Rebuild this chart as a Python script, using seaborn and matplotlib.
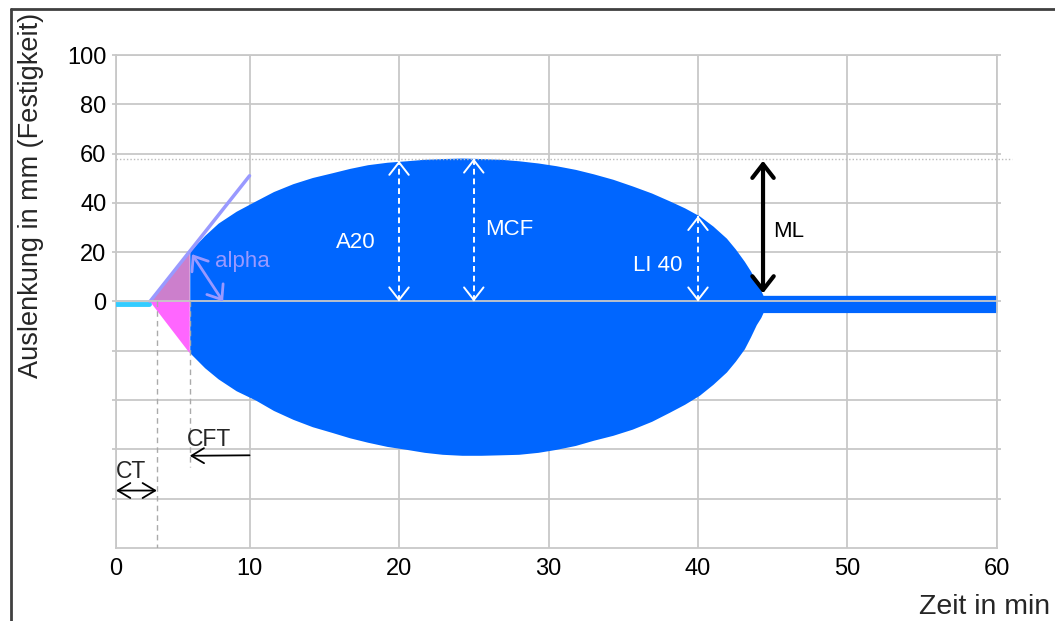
import matplotlib
matplotlib.use("Agg")
import matplotlib.pyplot as plt
import seaborn as sns
import pandas as pd
from matplotlib.lines import Line2D

# time axis (reference starts a little after 0, labelled "0")
x_start = 1.07
x_ticks = [x_start, 10, 20, 30, 40, 50, 60]
x_tick_labels = ["0", "10", "20", "30", "40", "50", "60"]
y_ticks = [-80, -60, -40, -20, 0, 20, 40, 60, 80, 100]
y_tick_labels = ["", "", "", "", "0", "20", "40", "60", "80", "100"]

# clot amplitude (upper / lower envelope), incl. lysed tail
clot_time = [6.0, 7.0, 7.9, 9.1, 10.4, 11.6, 12.9, 14.2, 15.5, 16.7, 17.9, 19.2, 20.5,
             21.7, 22.9, 24.2, 25.5, 26.8, 28.0, 29.3, 30.5, 31.8, 33.0, 34.3, 35.6,
             36.9, 38.1, 39.1, 40.1, 41.0, 41.9, 42.5, 43.1, 43.5, 43.9, 44.2, 44.35, 60.0]
clot_upper = [20.4, 26.8, 31.8, 36.6, 40.8, 44.6, 47.8, 50.3, 52.2, 54.0, 55.5, 56.5, 57.1,
              57.7, 58.0, 58.2, 58.0, 57.7, 57.1, 56.2, 55.1, 53.6, 51.8, 49.6, 46.9,
              44.0, 40.8, 38.0, 34.7, 30.6, 25.7, 21.3, 16.3, 12.5, 8.2, 4.5, 2.5, 2.5]
clot_lower = [-20.8, -26.9, -31.4, -36.2, -40.0, -44.2, -47.8, -50.8, -53.1, -55.3, -57.1, -58.8, -60.0,
              -61.2, -62.0, -62.4, -62.4, -62.2, -62.0, -61.2, -60.0, -58.4, -56.3, -54.3, -51.8,
              -48.6, -44.9, -41.7, -38.0, -33.6, -28.6, -24.2, -19.2, -14.5, -9.4, -6.5, -4.5, -4.5]

# key parameters
ct_time = 3.8
cft_time = 6.0
clot_start = 3.34
cft_amp_upper = 20.4
cft_amp_lower = -21.0
tangent_x = [3.34, 10.0]
tangent_y = [0.0, 51.0]
baseline_x = [x_start, 3.3]
baseline_y = [-1.0, -1.0]
a20_time, a20_amp = 20, 57.1
mcf_time, mcf_amp = 25, 58.0
li40_time, li40_amp = 40, 34.7
ml_time, ml_top, ml_bottom = 44.35, 57.1, 3.3

blue = "#0066ff"
lavender = "#9999ff"
grid_c = "#c8c8c8"

sns.set_theme(style="white")
plt.rcParams["font.family"] = ["Liberation Sans", "DejaVu Sans"]

fig, ax = plt.subplots(figsize=(10.55, 6.21), dpi=100)
fig.subplots_adjust(left=0.110, right=0.945, bottom=0.1176, top=0.9114)

# clot body
ax.fill_between(clot_time, clot_lower, clot_upper, color=blue, lw=0, zorder=2)

# CFT triangles
ax.fill([clot_start, cft_time, cft_time], [0, cft_amp_upper, 0], color="#cc7fcc", lw=0, zorder=2)
ax.fill([clot_start, cft_time, cft_time], [0, cft_amp_lower, 0], color="#ff66ff", lw=0, zorder=2)

# baseline before clotting and alpha tangent
lines = pd.DataFrame({"x": baseline_x, "y": baseline_y})
sns.lineplot(data=lines, x="x", y="y", color="#33ccff", lw=3.5, ax=ax, zorder=3)
tangent = pd.DataFrame({"x": tangent_x, "y": tangent_y})
sns.lineplot(data=tangent, x="x", y="y", color=lavender, lw=2.5, ax=ax, zorder=3)

ax.axhline(0, color=grid_c, lw=1.3, zorder=3)
ax.plot([x_start, 61.0], [mcf_amp, mcf_amp], color="#bbbbbb", lw=1, ls=(0, (1, 1.5)),
        clip_on=False, zorder=3)


def white_dashed_arrow(x, top):
    ax.plot([x, x], [0, top], color="white", lw=1.4, ls=(0, (3, 2)), zorder=4)
    for a, b in [(top - 1, top), (1, 0)]:
        ax.annotate("", xy=(x, b), xytext=(x, a),
                    arrowprops=dict(arrowstyle="->,head_length=0.45,head_width=0.35",
                                    color="white", lw=1.4, mutation_scale=20,
                                    shrinkA=0, shrinkB=0), zorder=4)


white_dashed_arrow(a20_time, a20_amp)
white_dashed_arrow(mcf_time, mcf_amp)
white_dashed_arrow(li40_time, li40_amp)

ax.text(17.1, 24, "A20", color="white", fontsize=16, ha="center", va="center", zorder=5)
ax.text(27.4, 29.4, "MCF", color="white", fontsize=16, ha="center", va="center", zorder=5)
ax.text(37.3, 14.7, "LI 40", color="white", fontsize=16, ha="center", va="center", zorder=5)

# ML
ax.annotate("", xy=(ml_time, ml_top), xytext=(ml_time, ml_bottom),
            arrowprops=dict(arrowstyle="<->,head_length=0.45,head_width=0.35",
                            color="black", lw=3, mutation_scale=22,
                            shrinkA=0, shrinkB=0), zorder=5)
ax.text(45.0, 28.6, "ML", color="black", fontsize=16, ha="left", va="center", zorder=5)

# alpha
ax.annotate("", xy=(6.15, 19.2), xytext=(8.23, 0),
            arrowprops=dict(arrowstyle="<->,head_length=0.45,head_width=0.35",
                            color=lavender, lw=2, mutation_scale=20,
                            shrinkA=0, shrinkB=0), zorder=5)
ax.text(7.7, 16.3, "alpha", color=lavender, fontsize=16, ha="left", va="center", zorder=5)

# CT / CFT markers
ax.plot([ct_time, ct_time], [0, -100], color="#aaaaaa", lw=1, ls=(0, (4, 3)), zorder=3)
ax.plot([cft_time, cft_time], [0, -67], color="#aaaaaa", lw=1, ls=(0, (4, 3)), zorder=3)
ax.annotate("", xy=(ct_time, -76.7), xytext=(x_start, -76.7),
            arrowprops=dict(arrowstyle="<->,head_length=0.5,head_width=0.3",
                            color="black", lw=1.3, mutation_scale=18,
                            shrinkA=0, shrinkB=0), zorder=5)
ax.text(x_start, -69, "CT", fontsize=16.5, ha="left", va="center", zorder=5)
ax.annotate("", xy=(cft_time, -62.6), xytext=(10.0, -62.4),
            arrowprops=dict(arrowstyle="->,head_length=0.5,head_width=0.3",
                            color="black", lw=1.3, mutation_scale=18,
                            shrinkA=0, shrinkB=0), zorder=5)
ax.text(7.3, -56, "CFT", fontsize=16.5, ha="center", va="center", zorder=5)

# axes
ax.set_xlim(x_start, 60)
ax.set_ylim(-100, 100)
ax.set_xticks(x_ticks)
ax.set_xticklabels(x_tick_labels)
ax.set_yticks(y_ticks)
ax.set_yticklabels(y_tick_labels)
ax.grid(True, color=grid_c, lw=1.3)
ax.set_axisbelow(True)
for s in ax.spines.values():
    s.set_color(grid_c)
    s.set_linewidth(1.3)
ax.tick_params(axis="y", left=True, right=True, length=3, width=1.3, color=grid_c,
               labelsize=17, pad=4, labelcolor="black")
ax.tick_params(axis="x", bottom=False, length=0, labelsize=17, pad=7, labelcolor="black")

ax.set_xlabel("Zeit in min", fontsize=20.5)
ax.xaxis.set_label_coords((1050 - 116) / 881, (548 - 607) / 493)
ax.xaxis.label.set_ha("right")
ax.xaxis.label.set_va("center")
ax.set_ylabel("Auslenkung in mm (Festigkeit)", fontsize=19.5)
ax.yaxis.set_label_coords((31 - 116) / 881, (548 - 195) / 493)
ax.yaxis.label.set_va("center")

# screenshot frame (left and top edges)
fig.add_artist(Line2D([11 / 1055, 11 / 1055], [0, 1 - 9 / 621], color="#404040", lw=2))
fig.add_artist(Line2D([11 / 1055, 1], [1 - 9 / 621, 1 - 9 / 621], color="#404040", lw=2))

fig.savefig("out.png", dpi=100)
